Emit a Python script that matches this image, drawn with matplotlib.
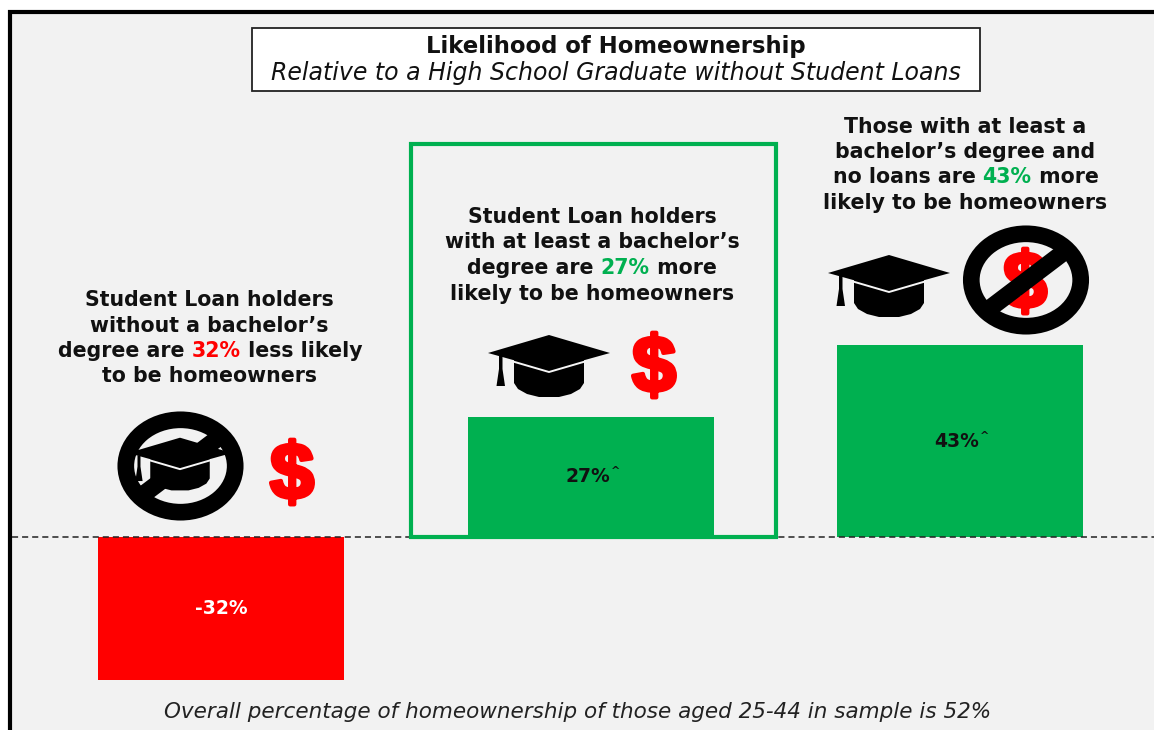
import matplotlib
matplotlib.use('Agg')
import matplotlib.pyplot as plt
import matplotlib.patheffects as pe
from matplotlib.patches import Ellipse, Polygon, Rectangle

plt.rcParams['font.family'] = ['DejaVu Sans']

W, H = 1154, 730
GREEN = '#00b050'
RED = '#ff0000'
PANEL = '#f2f2f2'

# bars
groups = ['no degree, loans', 'degree, loans', 'degree, no loans']
values = [-32, 27, 43]
bar_labels = ['-32%', '27%', '43%']
bar_marks = ['', '^', '^']
bar_colors = [RED, GREEN, GREEN]
label_colors = ['white', '#111111', '#111111']

title = 'Likelihood of Homeownership'
subtitle = 'Relative to a High School Graduate without Student Loans'
footnote = 'Overall percentage of homeownership of those aged 25-44 in sample is 52%'

# callouts: line by line, (text, colour) pieces
callouts = [
    [[('Student Loan holders', '#111111')],
     [('without a bachelor\u2019s', '#111111')],
     [('degree are ', '#111111'), ('32%', RED), (' less likely', '#111111')],
     [('to be homeowners', '#111111')]],
    [[('Student Loan holders', '#111111')],
     [('with at least a bachelor\u2019s', '#111111')],
     [('degree are ', '#111111'), ('27%', GREEN), (' more', '#111111')],
     [('likely to be homeowners', '#111111')]],
    [[('Those with at least a', '#111111')],
     [('bachelor\u2019s degree and', '#111111')],
     [('no loans are ', '#111111'), ('43%', GREEN), (' more', '#111111')],
     [('likely to be homeowners', '#111111')]],
]

fig = plt.figure(figsize=(W / 100, H / 100), dpi=100, facecolor='white')

# pixel overlay for the panel, text and icons
px = fig.add_axes([0, 0, 1, 1])
px.set_xlim(0, W)
px.set_ylim(H, 0)
px.axis('off')

# value axis for the bars: zero at y=537, 4.46 px per point
PX_PER = 4.46
ZERO = 537
bars = fig.add_axes([0, 0, 1, 1], zorder=2)
bars.patch.set_alpha(0)
bars.set_xlim(0, W)
bars.set_ylim(-(H - ZERO) / PX_PER, ZERO / PX_PER)
bars.axis('off')

top = fig.add_axes([0, 0, 1, 1], zorder=3, sharex=px, sharey=px)
top.patch.set_alpha(0)
top.axis('off')

px.add_patch(Rectangle((9.5, 11.5), W, H, fc=PANEL, ec='black', lw=3))

top.plot([12, W], [ZERO, ZERO], color='#222222', lw=1.1, dashes=(4, 2.6), zorder=1)
top.add_patch(Rectangle((410.5, 144), 365, 392.5, fc='none', ec=GREEN, lw=3, zorder=2))

centers = [221, 590.5, 960]
bars.bar(centers, values, width=246, color=bar_colors)
for c, v, lab, mark, col in zip(centers, values, bar_labels, bar_marks, label_colors):
    y = v / 2
    bars.text(c - 3 if mark else c, y, lab, color=col, fontsize=13.5, fontweight='bold',
              ha='center', va='center')
    if mark:
        bars.text(c + 25, y + 1.2, mark, color=col, fontsize=8, fontweight='bold',
                  ha='center', va='center')

# title box
px.add_patch(Rectangle((252, 28), 728, 63, fc='white', ec='#222222', lw=1.3))
top.text(616, 46, title, fontsize=16.4, fontweight='bold', ha='center', va='center', color='#111111')
top.text(616, 73, subtitle, fontsize=17, style='italic', ha='center', va='center', color='#111111')
top.text(578, 712, footnote, fontsize=15.5, style='italic', ha='center', va='center', color='#222222')


def centered_line(ax, cx, y, pieces, size):
    # lay out coloured pieces of one line around cx
    rend = fig.canvas.get_renderer()
    items = [ax.text(0, y, s, color=c, fontsize=size, fontweight='bold', va='baseline', ha='left')
             for s, c in pieces]
    widths = []
    for s, it in zip(pieces, items):
        t = s[0]
        # spaces at the ends are not measured, so pad with dots
        it.set_text('.' + t + '.')
        w = it.get_window_extent(rend).width
        it.set_text('..')
        w -= it.get_window_extent(rend).width
        it.set_text(t)
        widths.append(w)
    x = cx - sum(widths) / 2
    for it, w in zip(items, widths):
        it.set_x(x)
        x += w


callout_pos = [(209.5, 306, 25.5), (592, 223, 25.5), (965.5, 133, 25.2)]
for lines, (cx, y0, step) in zip(callouts, callout_pos):
    for i, pieces in enumerate(lines):
        centered_line(top, cx, y0 + i * step, pieces, 14.8)


def cap(ax, cx, cy, s=1.0, z=5):
    def P(pts):
        ax.add_patch(Polygon([(cx + a * s, cy + b * s) for a, b in pts], closed=True,
                             fc='black', ec='none', zorder=z))
    # body below the board
    P([(-35, 6), (-35, 30), (-31, 36), (-22, 41), (-10, 44), (10, 44), (22, 41), (31, 36), (35, 30), (35, 6), (0, 16)])
    # tassel
    P([(-50, 3), (-46.5, 3), (-46.5, 16), (-44, 33), (-52.5, 33), (-50, 16)])
    # board
    P([(-61, 0), (0, -18), (61, 0), (0, 17)])
    # light seam between board and body
    ax.plot([cx - 36 * s, cx, cx + 36 * s], [cy + 8.5 * s, cy + 19 * s, cy + 8.5 * s],
            color='#f6f6f6', lw=1.4, zorder=z + 0.5)


def dollar(ax, cx, cy, z=5):
    t = ax.text(cx, cy + 7, '$', color=RED, fontsize=57, fontweight='bold', ha='center',
                va='center', zorder=z, family='Liberation Sans')
    t.set_path_effects([pe.withStroke(linewidth=3, foreground=RED)])


def ring(ax, cx, cy, z=6):
    ax.add_patch(Ellipse((cx, cy), 109.4, 92.4, fc='none', ec='black', lw=12, zorder=z))


# degree + loans
cap(top, 549, 353)
dollar(top, 654, 364)

# degree + no loans
cap(top, 889, 273)
dollar(top, 1025, 280)
ring(top, 1026, 280)
top.plot([985, 1068], [312, 249], color='black', lw=12.5, solid_capstyle='butt', zorder=6)

# no degree + loans
top.plot([136, 226], [500, 432], color='black', lw=12.5, solid_capstyle='butt', zorder=4)
cap(top, 180, 453, 0.85)
ring(top, 180.5, 466)
dollar(top, 292, 471)

fig.savefig('out.png', dpi=100, facecolor='white')
